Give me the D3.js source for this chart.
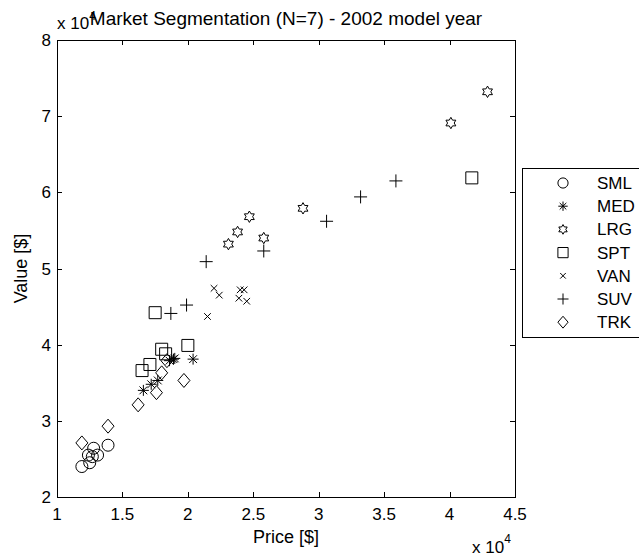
<!DOCTYPE html>
<html><head><meta charset="utf-8">
<script src="https://cdn.jsdelivr.net/npm/d3@7"></script>
<style>
body{margin:0;background:#fff;}
text{font-family:"Liberation Sans",Arial,sans-serif;fill:#000;}
</style></head>
<body>
<svg id="c" width="639" height="559"></svg>
<script>
// Data (prices and values in units of 10^4 $)
const segments = ["SML","MED","LRG","SPT","VAN","SUV","TRK"];
const symbols  = ["circle","asterisk","hexagram","square","x","plus","diamond"];
const smlPrice = [1.19,1.25,1.24,1.28,1.31,1.39,1.27];
const smlValue = [2.40,2.45,2.55,2.64,2.55,2.68,2.53];
const medPrice = [1.66,1.72,1.77,1.86,1.89,1.90,2.04];
const medValue = [3.40,3.48,3.53,3.79,3.81,3.82,3.81];
const lrgPrice = [2.31,2.38,2.47,2.58,2.88,4.01,4.29];
const lrgValue = [5.32,5.48,5.68,5.40,5.79,6.91,7.32];
const sptPrice = [1.65,1.71,1.80,1.83,2.00,1.75,4.17];
const sptValue = [3.66,3.74,3.94,3.88,3.99,4.42,6.19];
const vanPrice = [2.15,2.20,2.24,2.39,2.40,2.43,2.45];
const vanValue = [4.37,4.74,4.65,4.61,4.72,4.72,4.57];
const suvPrice = [1.87,1.99,2.14,2.58,3.06,3.32,3.59];
const suvValue = [4.41,4.52,5.09,5.23,5.62,5.94,6.15];
const trkPrice = [1.19,1.39,1.62,1.76,1.80,1.84,1.97];
const trkValue = [2.71,2.93,3.21,3.37,3.63,3.79,3.53];
const xTicks = [1,1.5,2,2.5,3,3.5,4,4.5];
const yTicks = [2,3,4,5,6,7,8];

const series = [
  [smlPrice,smlValue],[medPrice,medValue],[lrgPrice,lrgValue],[sptPrice,sptValue],
  [vanPrice,vanValue],[suvPrice,suvValue],[trkPrice,trkValue]
];

const L=57,R=515,T=40,B=497;
const x = d3.scaleLinear().domain([1,4.5]).range([L,R]);
const y = d3.scaleLinear().domain([2,8]).range([B,T]);
const svg = d3.select("#c");

function markerPath(type,s){
  const p = d3.path();
  if(type==="circle"){ const r=6*s; p.moveTo(r,0); p.arc(0,0,r,0,2*Math.PI); }
  else if(type==="square"){ const h=6*s; p.rect(-h,-h,2*h,2*h); }
  else if(type==="diamond"){ const w=6*s,h=7*s; p.moveTo(0,-h);p.lineTo(w,0);p.lineTo(0,h);p.lineTo(-w,0);p.closePath(); }
  else if(type==="plus"){ const h=6.5*s; p.moveTo(-h,0);p.lineTo(h,0);p.moveTo(0,-h);p.lineTo(0,h); }
  else if(type==="x"){ const h=3.3*s; p.moveTo(-h,-h);p.lineTo(h,h);p.moveTo(-h,h);p.lineTo(h,-h); }
  else if(type==="asterisk"){ const h=5.5*s,d=3.9*s; p.moveTo(-h,0);p.lineTo(h,0);p.moveTo(0,-h);p.lineTo(0,h);
    p.moveTo(-d,-d);p.lineTo(d,d);p.moveTo(-d,d);p.lineTo(d,-d); }
  else if(type==="hexagram"){ const ro=5.7*s, ri=ro/Math.sqrt(3);
    for(let i=0;i<12;i++){ const a=-Math.PI/2+i*Math.PI/6; const r=i%2?ri:ro;
      const px=r*Math.cos(a), py=r*Math.sin(a); if(i===0)p.moveTo(px,py); else p.lineTo(px,py);} p.closePath(); }
  return p.toString();
}

// axes box
svg.append("rect").attr("x",L+0.5).attr("y",T+0.5).attr("width",R-L).attr("height",B-T)
  .attr("fill","none").attr("stroke","#000").attr("stroke-width",1);

const tl=5, fs=17;
const g = svg.append("g");
xTicks.forEach(t=>{
  const px=Math.round(x(t))+0.5;
  g.append("line").attr("x1",px).attr("x2",px).attr("y1",B).attr("y2",B-tl).attr("stroke","#000");
  g.append("line").attr("x1",px).attr("x2",px).attr("y1",T).attr("y2",T+tl).attr("stroke","#000");
  g.append("text").attr("x",x(t)).attr("y",520).attr("text-anchor","middle").attr("font-size",fs).text(t);
});
yTicks.forEach(t=>{
  const py=Math.round(y(t))+0.5;
  g.append("line").attr("x1",L).attr("x2",L+tl).attr("y1",py).attr("y2",py).attr("stroke","#000");
  g.append("line").attr("x1",R).attr("x2",R-tl).attr("y1",py).attr("y2",py).attr("stroke","#000");
  g.append("text").attr("x",L-6).attr("y",y(t)+6).attr("text-anchor","end").attr("font-size",fs).text(t);
});

// exponent labels
const e1 = svg.append("text").attr("x",57).attr("y",29).attr("font-size",fs);
e1.append("tspan").text("x 10");
e1.append("tspan").attr("dy",-9).attr("font-size",12).text("4");
const e2 = svg.append("text").attr("x",472).attr("y",553).attr("font-size",fs);
e2.append("tspan").text("x 10");
e2.append("tspan").attr("dy",-10).attr("font-size",12).text("4");

// title & labels
svg.append("text").attr("x",(L+R)/2).attr("y",25).attr("text-anchor","middle").attr("font-size",19)
  .attr("stroke","#fff").attr("stroke-width",0).text("Market Segmentation (N=7) - 2002 model year");
svg.append("text").attr("x",(L+R)/2).attr("y",543).attr("text-anchor","middle").attr("font-size",18).text("Price [$]");
svg.append("text").attr("transform",`translate(27,${(T+B)/2}) rotate(-90)`).attr("text-anchor","middle")
  .attr("font-size",18).text("Value [$]");

// points
series.forEach((s,i)=>{
  const pts = s[0].map((p,j)=>[p,s[1][j]]);
  svg.append("g").selectAll("path").data(pts).join("path")
    .attr("transform",d=>`translate(${x(d[0])},${y(d[1])})`)
    .attr("d",markerPath(symbols[i],1))
    .attr("fill","none").attr("stroke","#000").attr("stroke-width",1);
});

// legend
const lg = svg.append("g");
lg.append("rect").attr("x",522.5).attr("y",168.5).attr("width",140).attr("height",169)
  .attr("fill","#fff").attr("stroke","#000");
segments.forEach((s,i)=>{
  const cy = 183 + i*23.2;
  lg.append("path").attr("transform",`translate(563,${cy})`).attr("d",markerPath(symbols[i],0.85))
    .attr("fill","none").attr("stroke","#000");
  lg.append("text").attr("x",597).attr("y",cy+6).attr("font-size",fs).text(s);
});
</script>
</body></html>
